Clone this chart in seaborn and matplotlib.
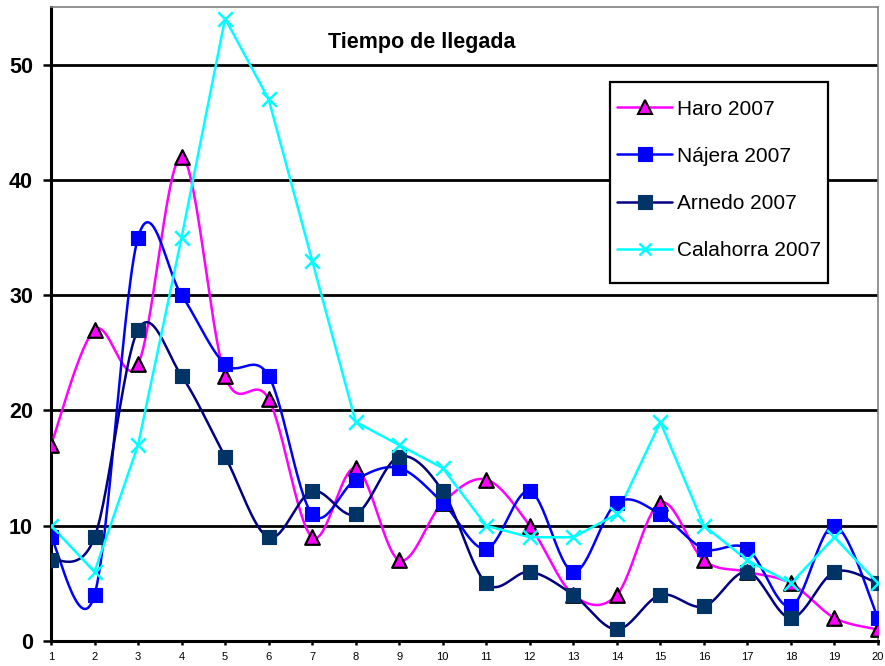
import numpy as np
import pandas as pd
import matplotlib
matplotlib.use("Agg")
import matplotlib.pyplot as plt
import seaborn as sns
from matplotlib.lines import Line2D
from matplotlib.patches import Rectangle

days = list(range(1, 21))
haro = [17, 27, 24, 42, 23, 21, 9, 15, 7, 12, 14, 10, 4, 4, 12, 7, 6, 5, 2, 1]
najera = [9, 4, 35, 30, 24, 23, 11, 14, 15, 12, 8, 13, 6, 12, 11, 8, 8, 3, 10, 2]
arnedo = [7, 9, 27, 23, 16, 9, 13, 11, 16, 13, 5, 6, 4, 1, 4, 3, 6, 2, 6, 5]
calahorra = [10, 6, 17, 35, 54, 47, 33, 19, 17, 15, 10, 9, 9, 11, 19, 10, 7, 5, 9, 5]
series_names = ["Haro 2007", "Nájera 2007", "Arnedo 2007", "Calahorra 2007"]
title = "Tiempo de llegada"

sns.set_theme(style="white")
plt.rcParams['font.family'] = ['Liberation Sans', 'DejaVu Sans']
plt.rcParams['text.color'] = 'black'
plt.rcParams['xtick.color'] = 'black'
plt.rcParams['ytick.color'] = 'black'
plt.rcParams['axes.labelcolor'] = 'black'

W, H = 885, 666


def smooth(x, y, n=30):
    x = np.asarray(x, float)
    y = np.asarray(y, float)
    P = np.column_stack([x, y])
    out = []
    m = len(P)
    for i in range(m - 1):
        p0 = P[i - 1] if i > 0 else P[i]
        p1 = P[i]
        p2 = P[i + 1]
        p3 = P[i + 2] if i + 2 < m else P[i + 1]
        c1 = p1 + (p2 - p0) / 6.0
        c2 = p2 - (p3 - p1) / 6.0
        t = np.linspace(0, 1, n, endpoint=(i == m - 2))[:, None]
        b = ((1 - t) ** 3) * p1 + 3 * ((1 - t) ** 2) * t * c1 + 3 * (1 - t) * t ** 2 * c2 + t ** 3 * p2
        out.append(b)
    B = np.vstack(out)
    return B[:, 0], B[:, 1]


fig = plt.figure(figsize=(W / 100, H / 100), dpi=100)
ax = fig.add_axes([51 / W, 25 / H, (878 - 51) / W, (641 - 7) / H])

specs = [
    (haro, "#FF00FF", "^", "#FF00FF", "black", True),
    (najera, "#0000FF", "s", "#0000FF", "#0000FF", True),
    (arnedo, "#000080", "s", "#003366", "#003366", True),
    (calahorra, "#00FFFF", "x", "#00FFFF", "#00FFFF", False),
]

for vals, lc, mk, mfc, mec, sm in specs:
    if sm:
        xs, ys = smooth(days, vals)
    else:
        xs, ys = np.array(days, float), np.array(vals, float)
    sns.lineplot(x=xs, y=ys, sort=False, estimator=None, color=lc, linewidth=1.8, ax=ax, zorder=3)

for vals, lc, mk, mfc, mec, sm in specs:
    if mk == "x":
        sns.scatterplot(x=days, y=vals, marker="x", s=110, color=mfc, linewidth=1.8, ax=ax, zorder=4)
    elif mk == "^":
        sns.scatterplot(x=days, y=vals, marker="^", s=110, color=mfc, edgecolor=mec, linewidth=1.6, ax=ax, zorder=4)
    else:
        sns.scatterplot(x=days, y=vals, marker="s", s=100, color=mfc, edgecolor=mec, linewidth=0.8, ax=ax, zorder=4)

ax.set_xlim(1, 20)
ax.set_ylim(0, 55)
ax.set_xticks(days)
ax.set_xticklabels([str(d) for d in days], fontsize=8)
ax.set_yticks([0, 10, 20, 30, 40, 50])
ax.set_yticklabels(["0", "10", "20", "30", "40", "50"], fontsize=15.5, fontweight="bold")
for yv in [10, 20, 30, 40, 50]:
    ax.axhline(yv, color="black", linewidth=2, zorder=1)
ax.set_xlabel("")
ax.set_ylabel("")

for s in ["left", "bottom"]:
    ax.spines[s].set_color("black")
    ax.spines[s].set_linewidth(2.2)
for s in ["top", "right"]:
    ax.spines[s].set_color("#808080")
    ax.spines[s].set_linewidth(1.2)
ax.tick_params(axis="y", which="both", direction="out", length=6, width=1.8, color="black",
               labelcolor="black", left=True, pad=7)
ax.tick_params(axis="x", which="both", direction="out", length=3, width=1.8, color="black",
               labelcolor="black", bottom=True, pad=5)

fig.text(421.5 / W, (H - 48.3) / H, title, ha="center", va="baseline",
         fontsize=15.5, fontweight="bold", color="black")

handles = []
for (vals, lc, mk, mfc, mec, sm), name in zip(specs, series_names):
    if mk == "x":
        h = Line2D([], [], color=lc, linewidth=1.8, marker="x", markersize=9, markeredgewidth=1.8, markeredgecolor=mfc)
    else:
        h = Line2D([], [], color=lc, linewidth=1.8, marker=mk, markersize=9.5, markerfacecolor=mfc,
                   markeredgecolor=mec, markeredgewidth=1.5 if mk == "^" else 0.8)
    handles.append(h)

fs = 15
fspx = fs * 100 / 72.0
leg = ax.legend(handles, series_names, loc="upper left",
                bbox_to_anchor=(617 / W, (H - (110 - fspx * 0.5)) / H), bbox_transform=fig.transFigure,
                fontsize=fs, frameon=False, borderpad=0, labelspacing=(49 - fspx) / fspx,
                handlelength=55 / fspx, handletextpad=5 / fspx, borderaxespad=0)
for t in leg.get_texts():
    t.set_color("black")
leg.set_zorder(6)
box = Rectangle((610 / W, (H - 283) / H), (828 - 610) / W, (283 - 82) / H, transform=fig.transFigure,
                facecolor="white", edgecolor="black", linewidth=1.6, zorder=5)
fig.patches.append(box)
fig.add_artist(leg)

fig.savefig("out.png", dpi=100, facecolor="white")
